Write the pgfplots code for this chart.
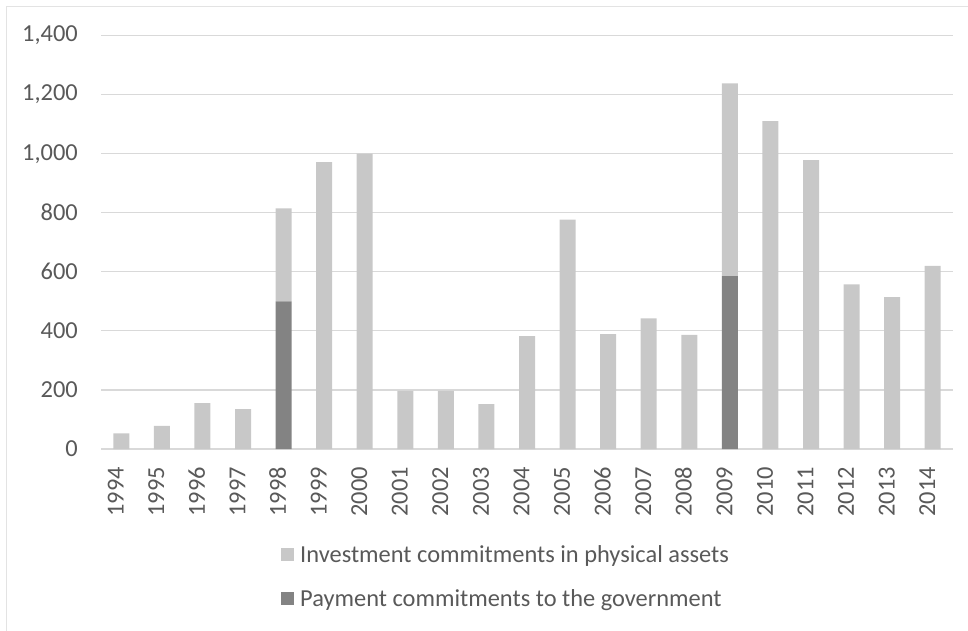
\documentclass[border=0pt]{standalone}
\usepackage{pgfplots}
\pgfplotsset{compat=1.18}
\usepackage{fontspec}
\setmainfont{Carlito}
\definecolor{lightbar}{HTML}{C8C8C8}
\definecolor{darkbar}{HTML}{838383}
\definecolor{txt}{HTML}{595959}
\definecolor{gridc}{HTML}{D9D9D9}
\definecolor{framec}{HTML}{E3E3E3}
\begin{document}
\begin{tikzpicture}[x=1bp,y=1bp]
\useasboundingbox (0,0) rectangle (968,-631);
\draw[framec, line width=1.2bp] (6.7,-640) -- (6.7,-6.7) -- (980,-6.7);
\begin{axis}[
  at={(101bp,-449bp)}, anchor=south west,
  scale only axis, width=852bp, height=413.5bp,
  ybar stacked, bar width=16bp,
  xmin=-0.5, xmax=20.5, ymin=0, ymax=1400,
  xtick={0,...,20},
  xticklabels={1994,1995,1996,1997,1998,1999,2000,2001,2002,2003,2004,2005,2006,2007,2008,2009,2010,2011,2012,2013,2014},
  ytick={0,200,...,1400},
  ymajorgrids, grid style={gridc, line width=1.2bp},
  axis line style={draw=none}, major tick length=0pt, tick style={draw=none},
  /pgf/number format/assume math mode=true,
  /pgf/number format/1000 sep={,},
  ticklabel style={font=\fontsize{24.5}{29}\selectfont, text=txt, inner sep=0pt},
  yticklabel style={xshift=-23bp},
  xticklabel style={yshift=-18bp, rotate=90, anchor=mid east},
  reverse legend,
  legend image code/.code={\fill[#1] (0bp,-6.5bp) rectangle (13bp,6.5bp); \path (19bp,0bp);},
  legend style={at={(axis description cs:0.2113,-0.232)}, anchor=north west,
    draw=none, fill=none, font=\fontsize{24.5}{29}\selectfont, text=txt,
    row sep=26bp, inner sep=0pt, nodes={inner sep=0pt}},
  legend cell align=left,
]
\addplot[fill=darkbar, draw=none] coordinates {
(0,0) (1,0) (2,0) (3,0) (4,500) (5,0) (6,0) (7,0) (8,0) (9,0) (10,0)
(11,0) (12,0) (13,0) (14,0) (15,585) (16,0) (17,0) (18,0) (19,0) (20,0)};
\addlegendentry{Payment commitments to the government}
\addplot[fill=lightbar, draw=none] coordinates {
(0,53) (1,78) (2,155) (3,135) (4,315) (5,971) (6,1000) (7,197) (8,197) (9,152) (10,382)
(11,777) (12,389) (13,442) (14,386) (15,653) (16,1110) (17,978) (18,557) (19,514) (20,620)};
\addlegendentry{Investment commitments in physical assets}
\end{axis}
\end{tikzpicture}
\end{document}
